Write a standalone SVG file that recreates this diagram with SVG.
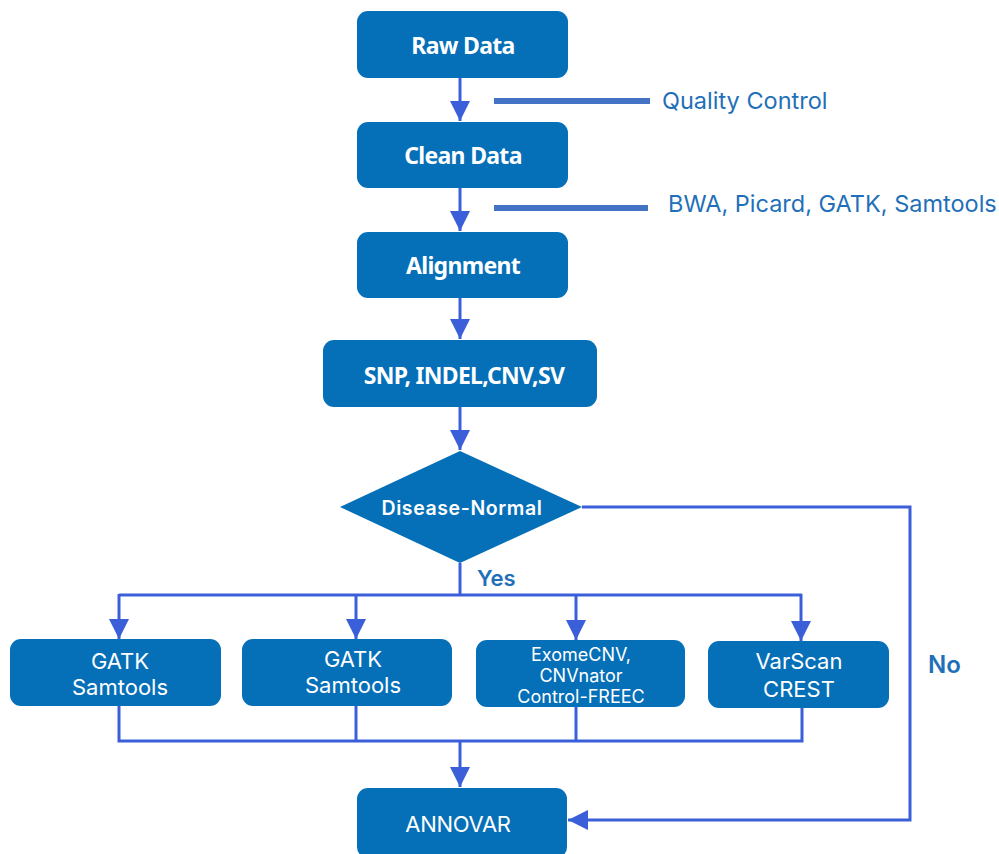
<svg xmlns="http://www.w3.org/2000/svg" width="999" height="854" viewBox="0 0 999 854">
<style>
.box{fill:#056fb8;}
.t1{font-family:"Noto Sans","Liberation Sans",sans-serif;font-weight:bold;font-size:23px;fill:#fff;text-anchor:middle;letter-spacing:-0.7px;}
.t2{font-family:Inter,"Noto Sans",sans-serif;font-size:22px;fill:#fff;text-anchor:middle;}
.t3{font-family:Inter,"Noto Sans",sans-serif;font-size:18px;fill:#fff;text-anchor:middle;}
.lbl{font-family:Inter,"Noto Sans",sans-serif;font-size:23.5px;fill:#1f70b8;}
.ln{fill:none;stroke:#3a5fd8;stroke-width:3;}
.bar{stroke:#4472c4;stroke-width:6;}
</style>
<defs>
<marker id="ah" markerWidth="22" markerHeight="20" refX="20" refY="10" orient="auto" markerUnits="userSpaceOnUse">
<path d="M0,0 L20,10 L0,20 Z" fill="#3a5fd8"/>
</marker>
</defs>
<g id="connectors">
<line class="ln" x1="460" y1="78" x2="460" y2="121" marker-end="url(#ah)"/>
<line class="ln" x1="460" y1="188" x2="460" y2="231" marker-end="url(#ah)"/>
<line class="ln" x1="460" y1="298" x2="460" y2="339" marker-end="url(#ah)"/>
<line class="ln" x1="460" y1="407" x2="460" y2="450" marker-end="url(#ah)"/>
<polyline class="ln" points="460,563 460,595"/>
<polyline class="ln" points="119,595 802,595"/>
<line class="ln" x1="119" y1="594" x2="119" y2="639" marker-end="url(#ah)"/>
<line class="ln" x1="356" y1="594" x2="356" y2="639" marker-end="url(#ah)"/>
<line class="ln" x1="576" y1="594" x2="576" y2="640" marker-end="url(#ah)"/>
<line class="ln" x1="801" y1="594" x2="801" y2="641" marker-end="url(#ah)"/>
<polyline class="ln" points="119,706 119,741 802,741 802,708"/>
<line class="ln" x1="356" y1="706" x2="356" y2="741"/>
<line class="ln" x1="576" y1="707" x2="576" y2="741"/>
<line class="ln" x1="460" y1="741" x2="460" y2="787" marker-end="url(#ah)"/>
<polyline class="ln" points="582,507 910,507 910,820 568,820" marker-end="url(#ah)"/>
<line class="bar" x1="494" y1="101" x2="650" y2="101"/>
<line class="bar" x1="494" y1="208" x2="648" y2="208"/>
</g>
<g id="raw"><rect class="box" x="357" y="11" width="211" height="67" rx="11"/><text class="t1" x="463" y="54">Raw Data</text></g>
<g id="clean"><rect class="box" x="357" y="122" width="211" height="66" rx="11"/><text class="t1" x="463" y="164">Clean Data</text></g>
<g id="align"><rect class="box" x="357" y="232" width="211" height="66" rx="11"/><text class="t1" x="463" y="274">Alignment</text></g>
<g id="snp"><rect class="box" x="323" y="340" width="274" height="67" rx="11"/><text class="t1" x="464" y="384">SNP, INDEL,CNV,SV</text></g>
<g id="decision"><polygon class="box" points="460,451 582,507 460,563 340,507"/><text class="t2" x="462" y="515" style="font-size:19.5px;font-weight:600;letter-spacing:0.6px">Disease-Normal</text></g>
<g id="b1"><rect class="box" x="10" y="639" width="211" height="67" rx="11"/><text class="t2" x="120" y="669">GATK</text><text class="t2" x="120" y="695">Samtools</text></g>
<g id="b2"><rect class="box" x="242" y="639" width="210" height="67" rx="11"/><text class="t2" x="353" y="667">GATK</text><text class="t2" x="353" y="693">Samtools</text></g>
<g id="b3"><rect class="box" x="476" y="640" width="209" height="67" rx="11"/><text class="t3" x="581" y="661">ExomeCNV,</text><text class="t3" x="581" y="682">CNVnator</text><text class="t3" x="581" y="703">Control-FREEC</text></g>
<g id="b4"><rect class="box" x="708" y="641" width="181" height="67" rx="11"/><text class="t2" x="799" y="669">VarScan</text><text class="t2" x="799" y="697">CREST</text></g>
<g id="annovar"><rect class="box" x="357" y="788" width="210" height="70" rx="11"/><text class="t2" x="458" y="832" style="letter-spacing:-0.3px">ANNOVAR</text></g>
<text class="lbl" x="662" y="109">Quality Control</text>
<text class="lbl" x="668" y="212">BWA, Picard, GATK, Samtools</text>
<text class="lbl" x="477" y="586" style="font-size:22px;font-weight:600">Yes</text>
<text class="lbl" x="928" y="673" style="font-size:24px;font-weight:600">No</text>
</svg>
